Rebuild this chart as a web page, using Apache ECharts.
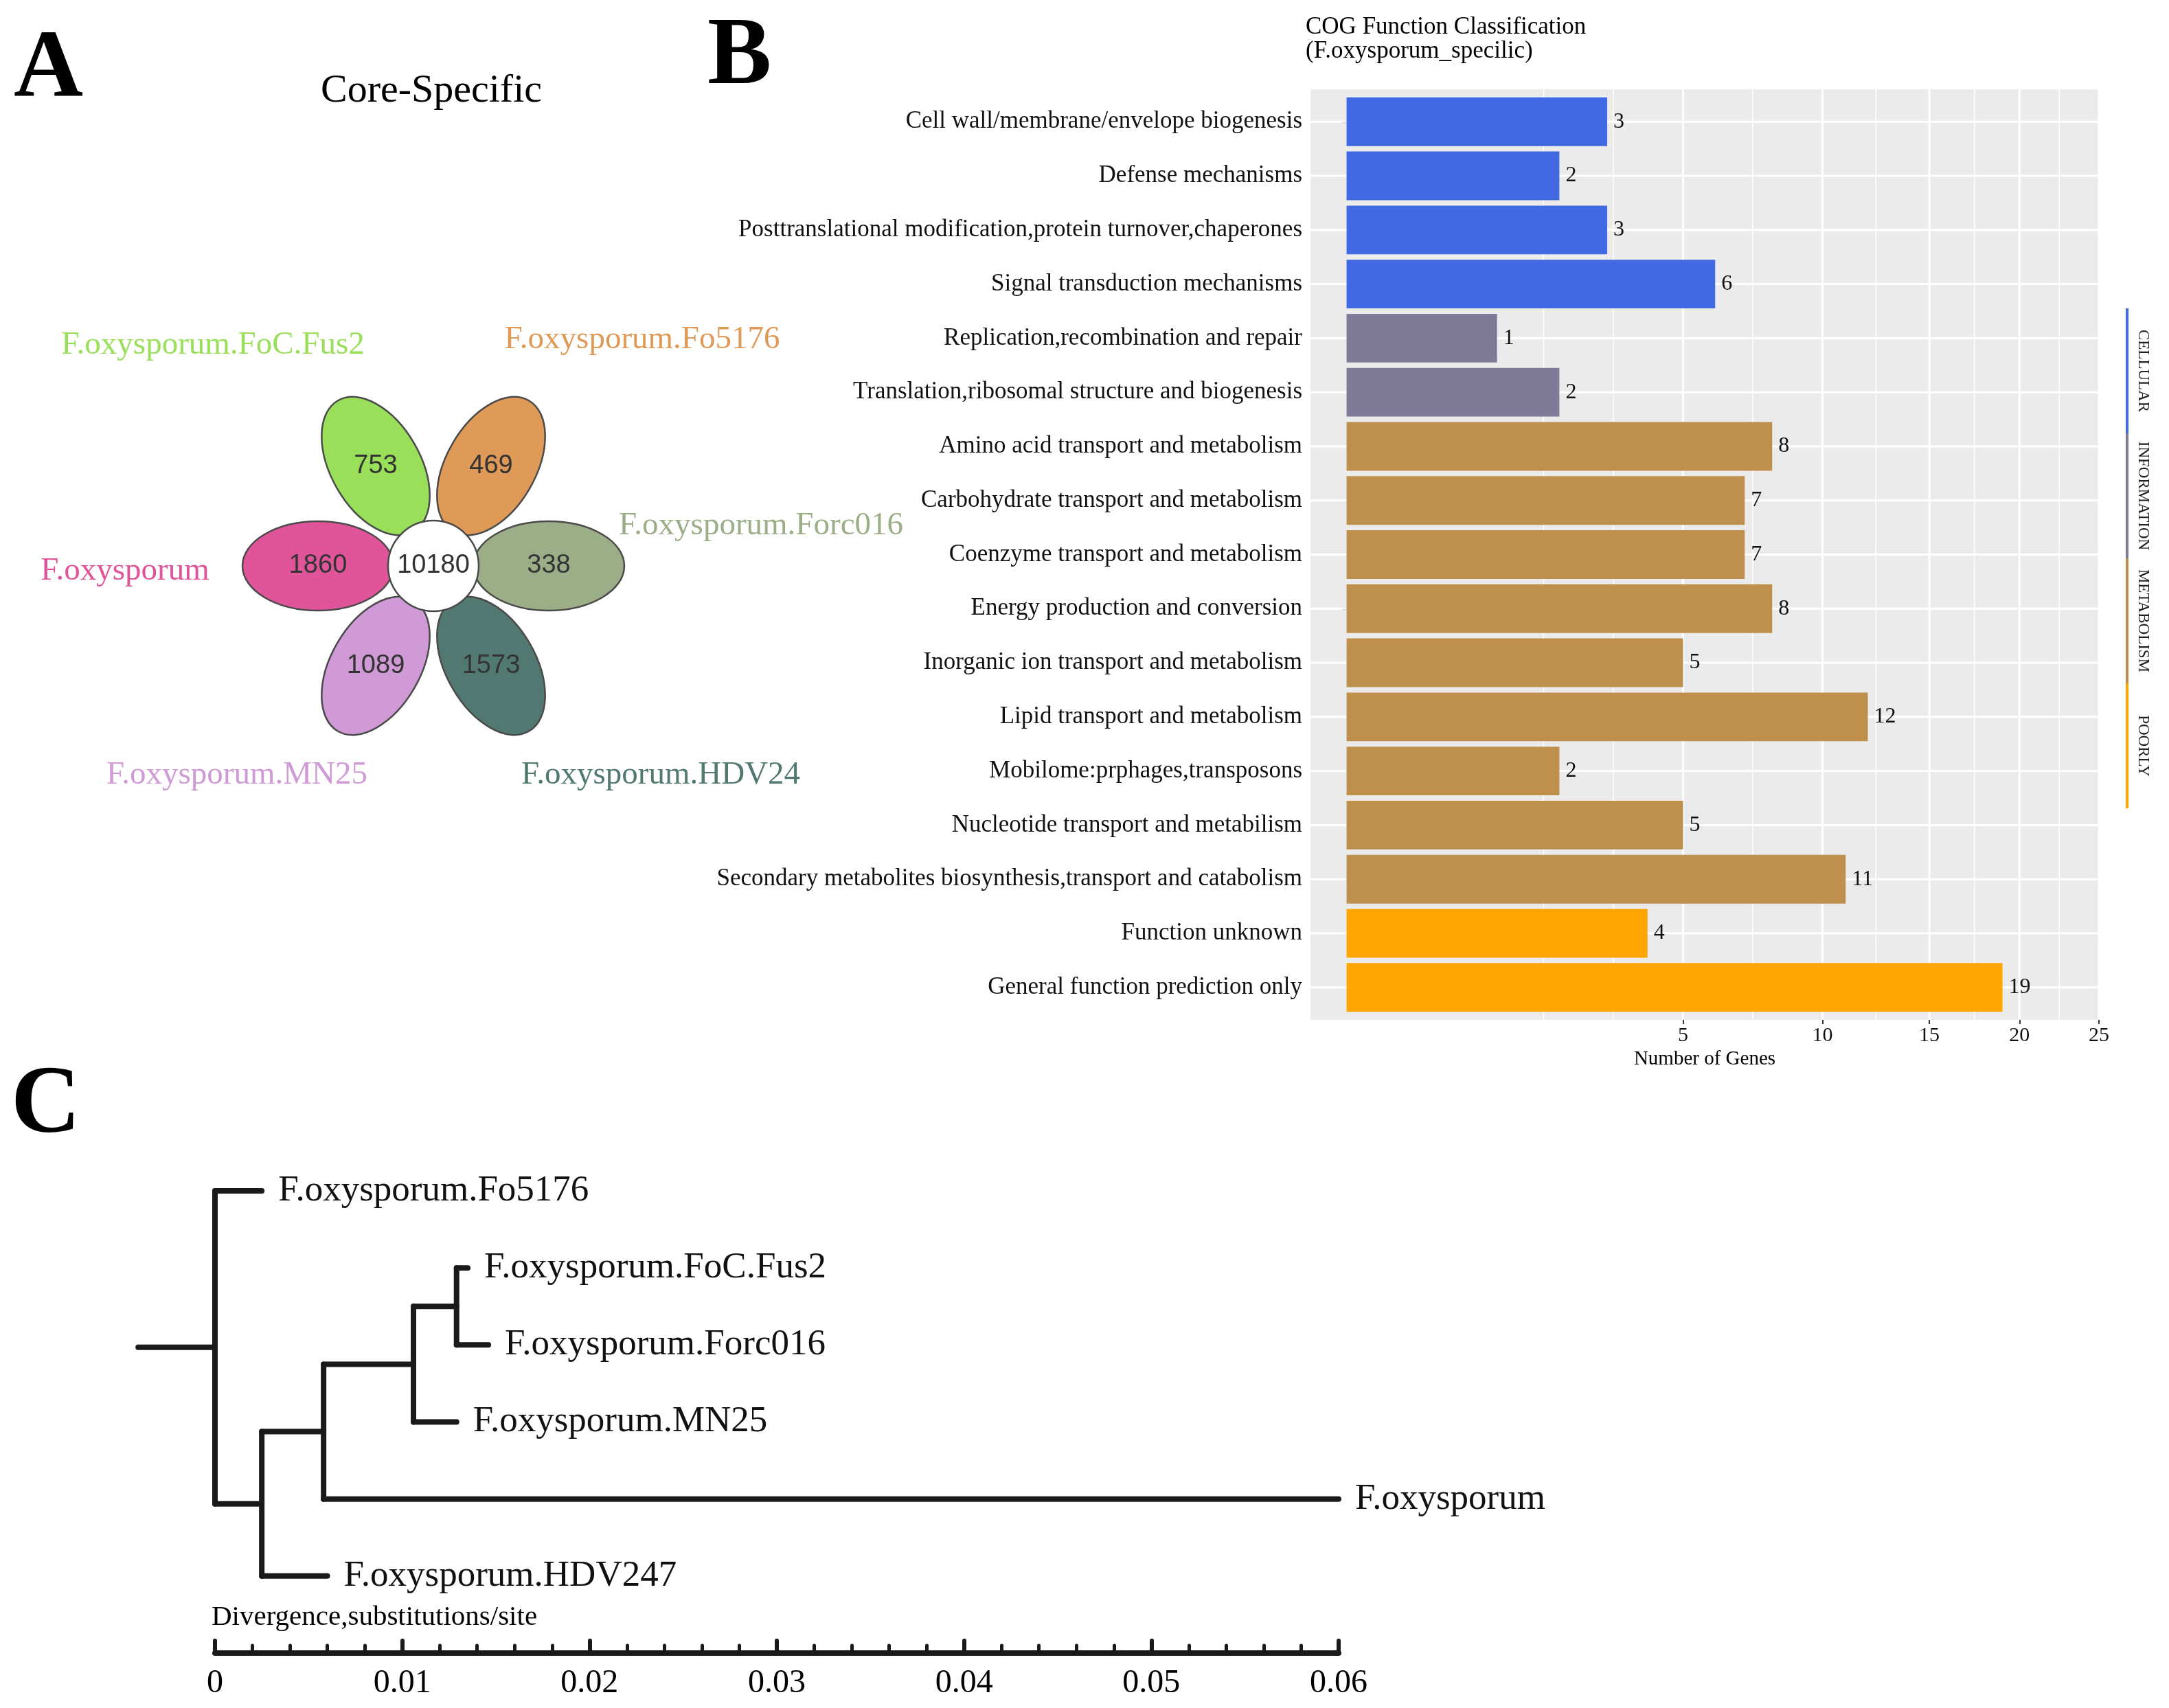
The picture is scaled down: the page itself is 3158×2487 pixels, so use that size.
<!DOCTYPE html>
<html><head><meta charset="utf-8">
<script src="https://cdn.jsdelivr.net/npm/echarts@6/dist/echarts.min.js"></script>
<style>html,body{margin:0;padding:0;background:#fff}#c{width:3158px;height:2487px}</style>
</head><body><div id="c"></div>
<script>
// ---------- Panel A data (flower diagram) ----------
const petalNames = ['F.oxysporum', 'F.oxysporum.FoC.Fus2', 'F.oxysporum.Fo5176', 'F.oxysporum.Forc016', 'F.oxysporum.HDV24', 'F.oxysporum.MN25'];
const petalValues = [1860, 753, 469, 338, 1573, 1089];
const coreValue = 10180;
const petalColors = ['#E0559A', '#9ADF5A', '#E09A57', '#9BAE88', '#527872', '#CF9AD6'];

// ---------- Panel B data (COG bars) ----------
const cogCategories = [
  'Cell wall/membrane/envelope biogenesis',
  'Defense mechanisms',
  'Posttranslational modification,protein turnover,chaperones',
  'Signal transduction mechanisms',
  'Replication,recombination and repair',
  'Translation,ribosomal structure and biogenesis',
  'Amino acid transport and metabolism',
  'Carbohydrate transport and metabolism',
  'Coenzyme transport and metabolism',
  'Energy production and conversion',
  'Inorganic ion transport and metabolism',
  'Lipid transport and metabolism',
  'Mobilome:prphages,transposons',
  'Nucleotide transport and metabilism',
  'Secondary metabolites biosynthesis,transport and catabolism',
  'Function unknown',
  'General function prediction only'
];
const cogCounts = [3, 2, 3, 6, 1, 2, 8, 7, 7, 8, 5, 12, 2, 5, 11, 4, 19];
const cogGroups = ['CELLULAR', 'CELLULAR', 'CELLULAR', 'CELLULAR', 'INFORMATION', 'INFORMATION',
  'METABOLISM', 'METABOLISM', 'METABOLISM', 'METABOLISM', 'METABOLISM', 'METABOLISM', 'METABOLISM', 'METABOLISM', 'METABOLISM',
  'POORLY', 'POORLY'];
const groupNames = ['CELLULAR', 'INFORMATION', 'METABOLISM', 'POORLY'];
const groupColors = ['#4169E1', '#7F7A97', '#BF904C', '#FFA500'];
const xBreaks = [5, 10, 15, 20, 25];

// ---------- Panel C data (tree) ----------
// [name, parent, branch length]
const treeNodes = [
  ['root', null, 0],
  ['F.oxysporum.Fo5176', 'root', 0.0025],
  ['n1', 'root', 0.0025],
  ['n2', 'n1', 0.0033],
  ['F.oxysporum.HDV247', 'n1', 0.0035],
  ['n3', 'n2', 0.0048],
  ['F.oxysporum', 'n2', 0.0542],
  ['n4', 'n3', 0.0023],
  ['F.oxysporum.MN25', 'n3', 0.0023],
  ['F.oxysporum.FoC.Fus2', 'n4', 0.0006],
  ['F.oxysporum.Forc016', 'n4', 0.0017]
];
const rootStubLength = 0.0041;

// ---------- layout ----------
const serif = '"Liberation Serif", "Times New Roman", serif';
const sans = '"Liberation Sans", Arial, sans-serif';
const flower = { cx: 631, cy: 824, dist: 168, rx: 110, ry: 65, coreR: 66 };
const petalLabelLayout = [[182, 832], [310, 503], [935, 495], [1108, 766], [962, 1129], [345, 1129]];
const strip = { x: 3097, top: 449, seg: 182, textX: 3120 };

// tree computation
const nodeMap = {};
treeNodes.forEach(([name, parent, bl]) => { nodeMap[name] = { name, parent, bl, children: [] }; });
treeNodes.forEach(([name, parent]) => { if (parent) nodeMap[parent].children.push(nodeMap[name]); });
let leafCounter = 0;
function layoutTree(node, x) {
  node.x = x;
  if (!node.children.length) { node.y = leafCounter++; return; }
  node.children.forEach(c => layoutTree(c, x + c.bl));
  node.y = (node.children[0].y + node.children[node.children.length - 1].y) / 2;
}
layoutTree(nodeMap.root, 0);
const treeSegments = [];
treeSegments.push([-rootStubLength, nodeMap.root.y, 0, nodeMap.root.y]);
Object.values(nodeMap).forEach(n => {
  if (n.parent) treeSegments.push([nodeMap[n.parent].x, n.y, n.x, n.y]);
  if (n.children.length) treeSegments.push([n.x, n.children[0].y, n.x, n.children[n.children.length - 1].y]);
});
const treeLeaves = Object.values(nodeMap).filter(n => !n.children.length).map(n => [n.x, n.y, n.name]);

// ggplot-like grid breaks in sqrt space
const majorT = xBreaks.map(Math.sqrt);
const extT = majorT[0] - (majorT[1] - majorT[0]);
const allT = [extT].concat(majorT);
const minorT = [extT];
for (let i = 0; i < allT.length - 1; i++) minorT.push((allT[i] + allT[i + 1]) / 2);
const gridData = [];
majorT.forEach(v => gridData.push([0, v]));
minorT.forEach(v => gridData.push([1, v]));
cogCategories.forEach((c, i) => gridData.push([2, i + 1]));

const chart = echarts.init(document.getElementById('c'), null, { renderer: 'canvas' });

function txt(x, y, text, font, fill, align, extra) {
  return Object.assign({ type: 'text', x: x, y: y, style: { text: text, font: font, fill: fill, textAlign: align, align: align, textVerticalAlign: 'middle', verticalAlign: 'middle' } }, extra || {});
}
const graphics = [
  txt(20, 104, 'A', 'bold 140px ' + serif, '#000', 'left'),
  txt(1030, 85, 'B', 'bold 140px ' + serif, '#000', 'left'),
  txt(16, 1612, 'C', 'bold 140px ' + serif, '#000', 'left'),
  txt(628, 133, 'Core-Specific', '58px ' + serif, '#000', 'center'),
  txt(308, 2355, 'Divergence,substitutions/site', '41px ' + serif, '#000', 'left')
];
const titleEl = txt(1901, 57, 'COG Function Classification\n(F.oxysporum_specilic)', '35px ' + serif, '#000', 'left');
titleEl.style.lineHeight = 35;
graphics.push(titleEl);
petalNames.forEach((n, i) => {
  graphics.push(txt(petalLabelLayout[i][0], petalLabelLayout[i][1], n, '47px ' + serif, petalColors[i], 'center'));
});
groupNames.forEach((g, i) => {
  const y0 = strip.top + i * strip.seg;
  graphics.push({ type: 'line', shape: { x1: strip.x, y1: y0, x2: strip.x, y2: y0 + strip.seg }, style: { stroke: groupColors[i], lineWidth: 4 } });
  graphics.push(txt(strip.textX, y0 + strip.seg / 2, g, '23px ' + serif, '#222', 'center', { rotation: -Math.PI / 2 }));
});

const option = {
  backgroundColor: '#ffffff',
  animation: false,
  graphic: { elements: graphics },
  grid: [
    { left: 1908, top: 130, width: 1148, height: 1355, show: true, backgroundColor: '#EBEBEB', borderWidth: 0 },
    { left: 313, top: 1734, width: 1636, height: 673, show: false }
  ],
  xAxis: [
    {
      gridIndex: 0, type: 'value', min: -0.24, max: 5,
      name: 'Number of Genes', nameLocation: 'middle', nameGap: 36,
      nameTextStyle: { fontFamily: serif, fontSize: 29, color: '#000' },
      axisLine: { show: false },
      axisTick: { show: true, customValues: majorT, length: 6, lineStyle: { color: '#333', width: 2 } },
      axisLabel: { customValues: majorT, formatter: v => String(Math.round(v * v)), margin: 8, fontFamily: serif, fontSize: 30, color: '#111' },
      splitLine: { show: false }
    },
    {
      gridIndex: 1, type: 'value', position: 'bottom', min: 0, max: 0.06, interval: 0.01,
      axisLine: { show: true, onZero: false, lineStyle: { color: '#1a1a1a', width: 8, cap: 'round' } },
      axisTick: { show: true, inside: true, length: 18, lineStyle: { color: '#1a1a1a', width: 6, cap: 'round' } },
      minorTick: { show: true, splitNumber: 5, length: 11, lineStyle: { color: '#1a1a1a', width: 5, cap: 'round' } },
      axisLabel: { formatter: v => v === 0 ? '0' : v.toFixed(2), margin: 20, fontFamily: serif, fontSize: 48, color: '#000' },
      splitLine: { show: false }
    }
  ],
  yAxis: [
    {
      gridIndex: 0, type: 'value', inverse: true, min: 0.4, max: 17.6,
      axisLine: { show: false },
      axisTick: { show: true, customValues: cogCategories.map((c, i) => i + 1), length: 6, lineStyle: { color: '#333', width: 2 } },
      axisLabel: { customValues: cogCategories.map((c, i) => i + 1), formatter: v => cogCategories[Math.round(v) - 1], margin: 12, fontFamily: serif, fontSize: 35, color: '#111' },
      splitLine: { show: false }
    },
    { gridIndex: 1, type: 'value', inverse: true, min: 0, max: 6, show: false }
  ],
  series: [
    // flower petals
    {
      type: 'custom', coordinateSystem: 'none', z: 2, silent: true,
      data: petalValues.map((v, i) => [i, v]),
      renderItem(params, api) {
        const i = api.value(0);
        const ang = Math.PI - i * Math.PI / 3;
        const x = flower.cx + flower.dist * Math.cos(ang);
        const y = flower.cy - flower.dist * Math.sin(ang);
        return { type: 'group', children: [
          { type: 'ellipse', x: x, y: y, rotation: ang, shape: { cx: 0, cy: 0, rx: flower.rx, ry: flower.ry }, style: { fill: petalColors[i], stroke: '#4a4a4a', lineWidth: 2.5 } },
          { type: 'text', x: x, y: y, style: { text: String(api.value(1)), font: '38px ' + sans, fill: '#333', textAlign: 'center', align: 'center', textVerticalAlign: 'middle', verticalAlign: 'middle' } }
        ] };
      }
    },
    // flower core
    {
      type: 'custom', coordinateSystem: 'none', z: 3, silent: true,
      data: [[coreValue]],
      renderItem(params, api) {
        return { type: 'group', children: [
          { type: 'circle', shape: { cx: flower.cx, cy: flower.cy, r: flower.coreR }, style: { fill: '#fff', stroke: '#4a4a4a', lineWidth: 2.5 } },
          { type: 'text', x: flower.cx, y: flower.cy, style: { text: String(api.value(0)), font: '38px ' + sans, fill: '#333', textAlign: 'center', align: 'center', textVerticalAlign: 'middle', verticalAlign: 'middle' } }
        ] };
      }
    },
    // panel B grid lines
    {
      type: 'custom', xAxisIndex: 0, yAxisIndex: 0, z: 1, silent: true, clip: false,
      data: gridData, encode: { x: 1 },
      renderItem(params, api) {
        const cs = params.coordSys;
        const kind = api.value(0), v = api.value(1);
        if (kind === 2) {
          const py = api.coord([0, v])[1];
          return { type: 'line', shape: { x1: cs.x, y1: py, x2: cs.x + cs.width, y2: py }, style: { stroke: '#ffffff', lineWidth: 3 } };
        }
        const px = api.coord([v, 1])[0];
        return { type: 'line', shape: { x1: px, y1: cs.y, x2: px, y2: cs.y + cs.height }, style: { stroke: '#ffffff', lineWidth: kind === 0 ? 3 : 1.5 } };
      }
    },
    // panel B bars
    {
      type: 'custom', xAxisIndex: 0, yAxisIndex: 0, z: 3, silent: true, clip: false,
      data: cogCounts.map((v, i) => [Math.sqrt(v), i + 1, v, groupNames.indexOf(cogGroups[i])]),
      encode: { x: 0, y: 1 },
      renderItem(params, api) {
        const y = api.value(1);
        const p0 = api.coord([0, y]);
        const p1 = api.coord([api.value(0), y]);
        const h = api.size([0, 0.9])[1];
        return { type: 'group', children: [
          { type: 'rect', shape: { x: p0[0], y: p0[1] - h / 2, width: p1[0] - p0[0], height: h }, style: { fill: groupColors[api.value(3)] } },
          { type: 'text', x: p1[0] + 9, y: p1[1], style: { text: String(api.value(2)), font: '32px ' + serif, fill: '#111', textAlign: 'left', align: 'left', textVerticalAlign: 'middle', verticalAlign: 'middle' } }
        ] };
      }
    },
    // panel C tree branches
    {
      type: 'custom', xAxisIndex: 1, yAxisIndex: 1, z: 3, silent: true, clip: false,
      data: treeSegments, encode: { x: [0, 2], y: [1, 3] },
      renderItem(params, api) {
        const a = api.coord([api.value(0), api.value(1)]);
        const b = api.coord([api.value(2), api.value(3)]);
        return { type: 'line', shape: { x1: a[0], y1: a[1], x2: b[0], y2: b[1] }, style: { stroke: '#1a1a1a', lineWidth: 8, lineCap: 'round' } };
      }
    },
    // panel C leaf labels
    {
      type: 'custom', xAxisIndex: 1, yAxisIndex: 1, z: 3, silent: true, clip: false,
      data: treeLeaves, encode: { x: 0, y: 1 },
      renderItem(params, api) {
        const p = api.coord([api.value(0), api.value(1)]);
        return { type: 'text', x: p[0] + 24, y: p[1], style: { text: treeLeaves[params.dataIndex][2], font: '53px ' + serif, fill: '#111', textAlign: 'left', align: 'left', textVerticalAlign: 'middle', verticalAlign: 'middle' } };
      }
    }
  ]
};
chart.setOption(option);
</script>
</body></html>
